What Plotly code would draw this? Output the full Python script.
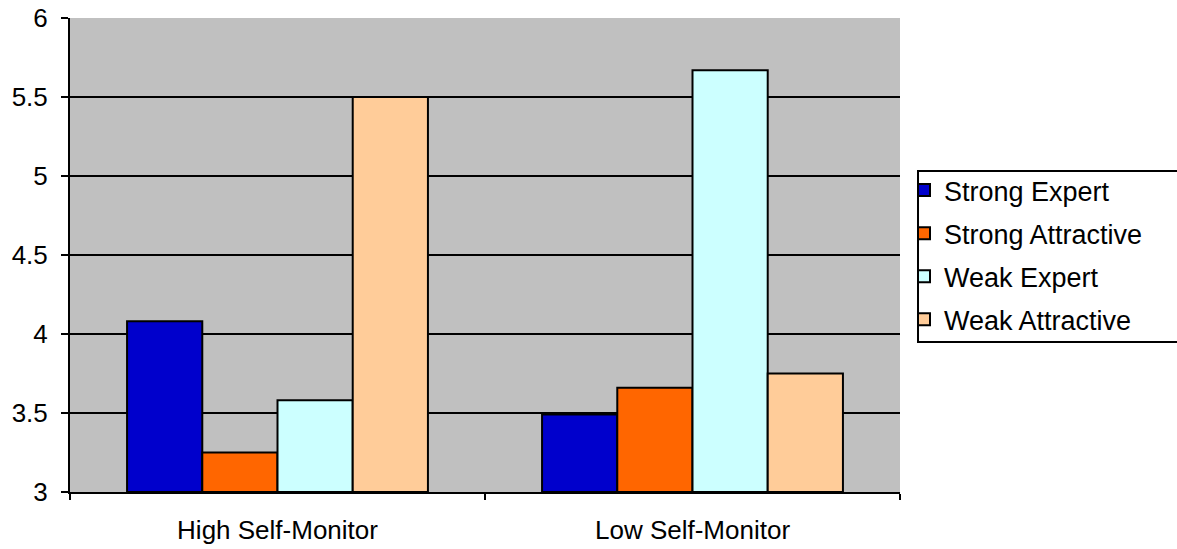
import plotly.graph_objects as go

categories = ["High Self-Monitor", "Low Self-Monitor"]
series_names = ["Strong Expert", "Strong Attractive", "Weak Expert", "Weak Attractive"]
strong_expert = [4.08, 3.49]
strong_attractive = [3.25, 3.66]
weak_expert = [3.58, 5.67]
weak_attractive = [5.50, 3.75]
colors = ["#0000CC", "#FF6600", "#CCFFFF", "#FFCC99"]

y_floor = 3
y_ticks = [3, 3.5, 4, 4.5, 5, 5.5, 6]
y_tick_labels = ["3", "3.5", "4", "4.5", "5", "5.5", "6"]

fig = go.Figure()
for name, vals, col in zip(series_names,
                           [strong_expert, strong_attractive, weak_expert, weak_attractive],
                           colors):
    fig.add_trace(go.Bar(
        x=categories, y=[v - y_floor for v in vals], base=y_floor, name=name,
        marker=dict(color=col, line=dict(color="black", width=2)),
        legendgroup=name,
        hovertemplate="%{x}<br>" + name + ": %{customdata}<extra></extra>",
        customdata=vals,
    ))

# legend frame drawn as a shape so its border sits independent of item spacing
fig.add_shape(type="rect", xref="paper", yref="paper",
              x0=1.0217, x1=1.40, y0=0.3165, y1=0.677,
              line=dict(color="black", width=2), fillcolor="white", layer="below")

fig.update_layout(
    width=1177, height=549,
    margin=dict(l=70, r=277, t=18, b=57, autoexpand=False),
    paper_bgcolor="white",
    plot_bgcolor="#C0C0C0",
    barmode="group",
    bargap=0.275,
    bargroupgap=0,
    font=dict(family="Liberation Sans, Arial, sans-serif", color="black", size=26),
    legend=dict(
        xref="container", yref="container",
        x=904 / 1177, y=1 - 166 / 549, xanchor="left", yanchor="top",
        borderwidth=0, bgcolor="rgba(0,0,0,0)",
        font=dict(size=27),
        traceorder="grouped", tracegroupgap=5,
        itemwidth=30,
    ),
    showlegend=True,
)
fig.update_xaxes(
    showline=True, linecolor="black", linewidth=2,
    ticks="outside", tickson="boundaries", ticklen=6, tickcolor="black", tickwidth=2,
    tickfont=dict(size=26), ticklabelstandoff=14,
    showgrid=False,
)
fig.update_yaxes(
    range=[3, 6], tickvals=y_ticks, ticktext=y_tick_labels,
    showline=True, linecolor="black", linewidth=2,
    ticks="outside", ticklen=7, tickcolor="black", tickwidth=2,
    tickfont=dict(size=26), ticklabelstandoff=8,
    showgrid=True, gridcolor="black", gridwidth=2,
    zeroline=False,
)
fig.write_html("out.html")
